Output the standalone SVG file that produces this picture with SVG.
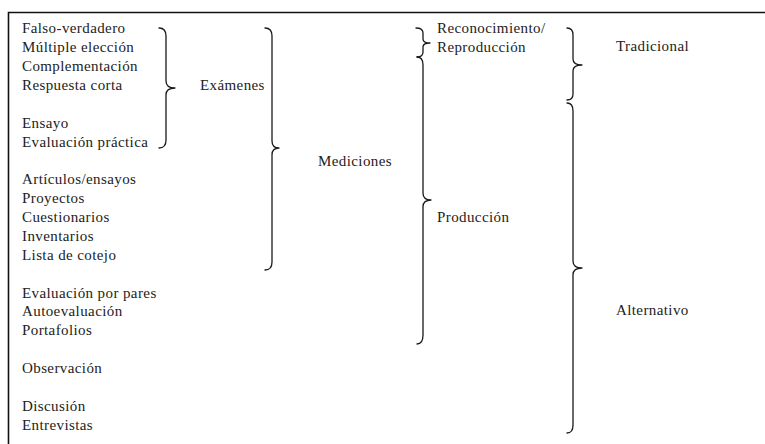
<svg xmlns="http://www.w3.org/2000/svg" width="765" height="444" viewBox="0 0 765 444">
<style>
text{font-family:"Liberation Serif","Times New Roman",serif;font-size:15px;letter-spacing:0.4px;fill:#222}
.b{fill:none;stroke:#1a1a1a;stroke-width:1.3;stroke-linecap:round;stroke-linejoin:round}
.f{fill:none;stroke:#111;stroke-width:1.6}
</style>
<rect width="765" height="444" fill="#fff"/>
<g id="frame"><path class="f" d="M8.5 444 V12.5 H765"/></g>
<g id="items">
<text x="22" y="33">Falso-verdadero</text>
<text x="22" y="52">Múltiple elección</text>
<text x="22" y="71">Complementación</text>
<text x="22" y="89.5">Respuesta corta</text>
<text x="22" y="127.5">Ensayo</text>
<text x="22" y="146.5">Evaluación práctica</text>
<text x="22" y="184">Artículos/ensayos</text>
<text x="22" y="203">Proyectos</text>
<text x="22" y="222">Cuestionarios</text>
<text x="22" y="241">Inventarios</text>
<text x="22" y="259.5">Lista de cotejo</text>
<text x="22" y="297.5">Evaluación por pares</text>
<text x="22" y="316">Autoevaluación</text>
<text x="22" y="335">Portafolios</text>
<text x="22" y="373">Observación</text>
<text x="22" y="411">Discusión</text>
<text x="22" y="430">Entrevistas</text>
</g>
<g id="examenes"><text x="200" y="89.5">Exámenes</text></g>
<g id="mediciones"><text x="318" y="166">Mediciones</text></g>
<g id="reconocimiento"><text x="437" y="33">Reconocimiento/</text><text x="437" y="52">Reproducción</text></g>
<g id="produccion"><text x="437" y="222">Producción</text></g>
<g id="tradicional"><text x="616" y="51">Tradicional</text></g>
<g id="alternativo"><text x="616" y="315">Alternativo</text></g>
<g id="connectors">
<path class="b" d="M159 28 Q166 28 166 36 L166 81 Q166 88 175 88 Q166 88 166 95 L166 140 Q166 148 159 148"/>
<path class="b" d="M265 28 Q272 28 272 36 L272 141 Q272 148 279 148 Q272 148 272 155 L272 262 Q272 270 265 270"/>
<path class="b" d="M416 28 Q423 28 423 33 L423 39 Q423 43 430 43 Q423 43 423 47 L423 52 Q423 57 417 57"/>
<path class="b" d="M417 57 Q423 57 423 65 L423 193 Q423 200 431 200 Q423 200 423 207 L423 335 Q423 344 417 344"/>
<path class="b" d="M567 28 Q573 28 573 35 L573 59 Q573 65 582 65 Q573 65 573 71 L573 94 Q573 100 567 100"/>
<path class="b" d="M567 103 Q573 103 573 111 L573 261 Q573 268 582 268 Q573 268 573 275 L573 425 Q573 433 567 433"/>
</g>
</svg>
